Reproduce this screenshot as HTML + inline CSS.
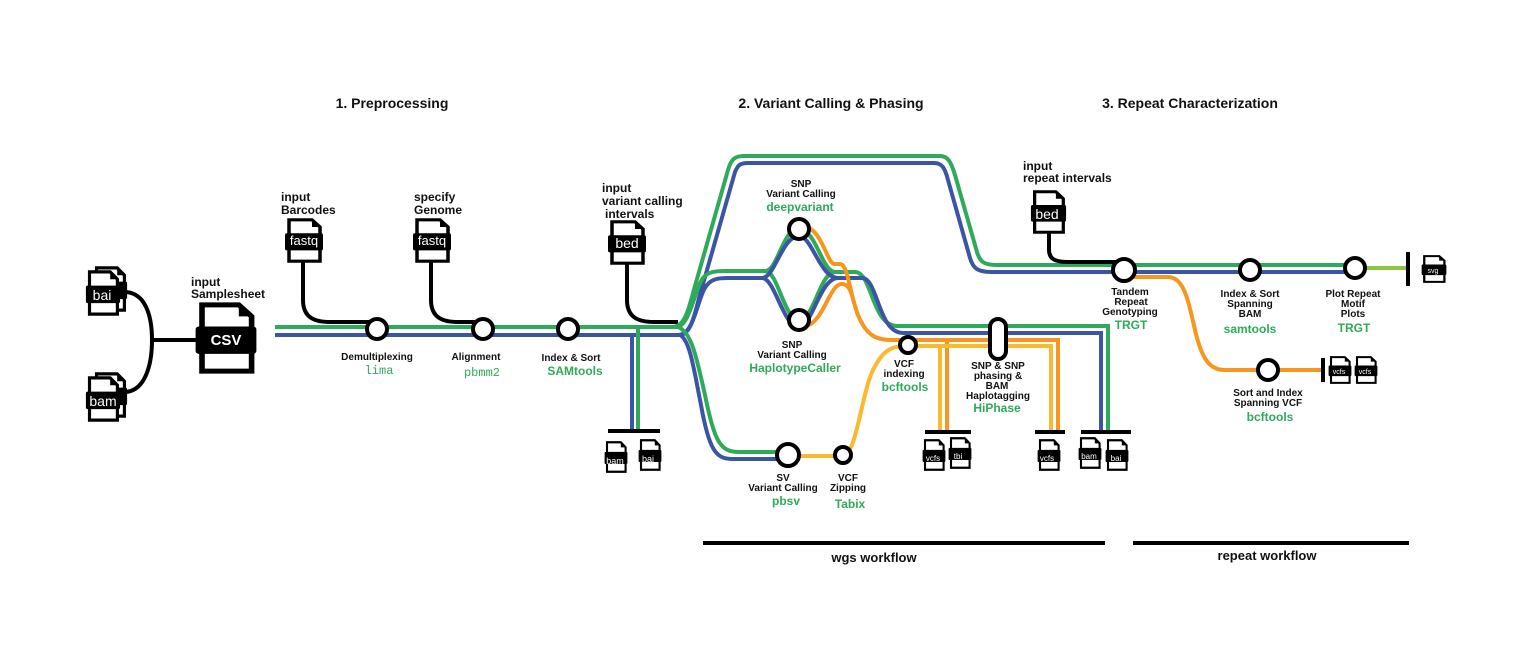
<!DOCTYPE html>
<html><head><meta charset="utf-8"><style>
body{margin:0;background:#fff;}
svg{display:block;}
text{font-family:"Liberation Sans",Arial,sans-serif;font-weight:bold;}
.t{font-size:10px;fill:#111;text-anchor:middle;}
.g{font-size:12px;fill:#2eaa5a;text-anchor:middle;}
.h{font-size:14px;fill:#111;text-anchor:middle;}
.in{font-size:12px;fill:#111;}
.dt{fill:#fff;font-weight:normal;text-anchor:middle;}
.G{stroke:#2eaa5a;stroke-width:4;fill:none;}
.B{stroke:#3a55a5;stroke-width:4;fill:none;}
.O{stroke:#f7961e;stroke-width:4;fill:none;}
.Y{stroke:#fbb92e;stroke-width:4;fill:none;}
.K{stroke:#000;stroke-width:4;fill:none;}
.c{fill:#fff;stroke:#000;stroke-width:4;}
</style></head><body>
<svg width="1536" height="657" viewBox="0 0 1536 657" xmlns="http://www.w3.org/2000/svg">
<defs>
<symbol id="doc" viewBox="0 0 40 50" preserveAspectRatio="none">
<path d="M5,2 H28 L36,10 V48 H5 Z" fill="#fff" stroke="#000" stroke-width="3.5"/>
<path d="M28,2 V10 H36 Z" fill="#000"/>
<rect x="1" y="17" width="38" height="19" rx="2" fill="#000"/>
</symbol>
</defs>

<!-- titles -->
<text class="h" x="392" y="108">1. Preprocessing</text>
<text class="h" x="831" y="108">2. Variant Calling &amp; Phasing</text>
<text class="h" x="1190" y="108">3. Repeat Characterization</text>

<!-- bottom bars -->
<rect x="703" y="541" width="402" height="4" fill="#000"/>
<rect x="1133" y="541" width="276" height="4" fill="#000"/>
<text class="h" x="874" y="562" style="font-size:13px">wgs workflow</text>
<text class="h" x="1267" y="560" style="font-size:13px">repeat workflow</text>

<!-- left inputs -->
<use href="#doc" x="92" y="266" width="36" height="46"/>
<use href="#doc" x="85" y="270" width="36" height="46"/>
<text class="dt" x="102" y="300" font-size="14">bai</text>
<use href="#doc" x="92" y="372" width="36" height="46"/>
<use href="#doc" x="85" y="376" width="36" height="46"/>
<text class="dt" x="103" y="406" font-size="14">bam</text>
<path class="K" d="M124,292 C145,292 152,315 152,340 C152,365 145,392 124,392"/>
<path class="K" d="M152,340 H198"/>
<text class="in" x="191" y="286">input</text>
<text class="in" x="191" y="298">Samplesheet</text>
<use href="#doc" x="194" y="302" width="64" height="72"/>
<text class="dt" x="226" y="345" font-size="15" style="font-weight:bold">CSV</text>

<!-- preprocessing main line -->
<path class="G" d="M275,327 H680"/>
<path class="B" d="M275,335 H680"/>
<path class="K" d="M303,258 V300 C303,318 315,322 330,322 H372"/>
<path class="K" d="M431,258 V300 C431,318 443,322 458,322 H478"/>
<path class="K" d="M627,258 V300 C627,318 639,322 654,322 H678"/>
<text class="in" x="281" y="201">input</text><text class="in" x="281" y="214">Barcodes</text>
<use href="#doc" x="284" y="218" width="40" height="45"/>
<text class="dt" x="304" y="245" font-size="13">fastq</text>
<text class="in" x="414" y="201">specify</text><text class="in" x="414" y="214">Genome</text>
<use href="#doc" x="412" y="218" width="40" height="45"/>
<text class="dt" x="432" y="245" font-size="13">fastq</text>
<text class="in" x="602" y="192">input</text><text class="in" x="602" y="205">variant calling</text><text class="in" x="605" y="218">intervals</text>
<use href="#doc" x="607" y="220" width="40" height="45"/>
<text class="dt" x="627" y="248" font-size="14">bed</text>

<!-- stack branch -->
<path class="B" d="M632,335 V431"/>
<path class="G" d="M638,327 V431"/>
<rect x="608" y="429" width="52" height="4" fill="#000"/>
<use href="#doc" x="604" y="441" width="24" height="32"/>
<text class="dt" x="615" y="464" font-size="9">bam</text>
<use href="#doc" x="638" y="439" width="24" height="32"/>
<text class="dt" x="648" y="462" font-size="9">bai</text>

<circle class="c" cx="377" cy="329" r="10"/>
<circle class="c" cx="483" cy="329" r="10"/>
<circle class="c" cx="568" cy="329" r="10"/>
<text class="t" x="377" y="360">Demultiplexing</text>
<text class="g" x="379" y="374" style="font-family:'Liberation Mono',monospace;font-weight:normal">lima</text>
<text class="t" x="476" y="360">Alignment</text>
<text class="g" x="482" y="376" style="font-family:'Liberation Mono',monospace;font-weight:normal">pbmm2</text>
<text class="t" x="571" y="361">Index &amp; Sort</text>
<text class="g" x="575" y="375">SAMtools</text>

<!-- top branch -->
<path class="G" d="M672,327 C684,327 688,312 693,293 L728,170 C731,160 734,156 744,156 H940 C948,156 951,162 955,175 L977,252 C980,262 984,265 997,265 H1115"/>
<path class="B" d="M678,335 C690,335 694,318 699,298 L735,172 C738,165 740,163 748,163 H934 C942,163 945,168 948,180 L970,258 C973,268 977,272 992,272 H1115"/>

<!-- middle branch -->
<path class="G" d="M676,327 C690,327 694,290 703,278 C708,272 714,271 725,271 H765 C778,271 782,229 799,229 C816,229 822,272 835,272 H855 C872,272 872,326 897,326 H1108 V432"/>
<path class="G" d="M765,271 C778,271 784,320 799,320 C814,320 820,272 835,272"/>
<path class="B" d="M680,335 C694,335 698,295 707,285 C712,279 718,278 728,278 H762 C775,278 782,236 799,236 C812,236 820,278 838,278 H862 C878,278 878,333 903,333 H1101 V432"/>
<path class="B" d="M762,278 C775,278 783,327 799,327 C812,327 820,278 838,278"/>

<!-- orange -->
<path class="O" d="M801,226 C822,226 826,262 834,264 H840 C848,264 850,295 858,315 C866,334 874,340 892,340 H1058 V432"/>
<path class="O" d="M801,327 C824,327 828,284 842,284 C852,284 852,300 858,315"/>
<path class="O" d="M947,340 V432"/>
<!-- yellow -->
<path class="Y" d="M790,456 H843 C856,456 862,392 873,370 C882,352 890,346 905,346 H1051 V432"/>
<path class="Y" d="M940,346 V432"/>

<!-- lower branch -->
<path class="G" d="M678,327 C692,332 697,360 705,395 C714,440 720,452 738,452 H785"/>
<path class="B" d="M680,335 C690,340 694,370 701,405 C709,450 716,459 732,459 H785"/>

<!-- bars wgs -->
<rect x="925" y="430" width="46" height="4" fill="#000"/>
<rect x="1035" y="430" width="30" height="4" fill="#000"/>
<rect x="1081" y="430" width="50" height="4" fill="#000"/>
<use href="#doc" x="922" y="439" width="24" height="32"/><text class="dt" x="933" y="461" font-size="8">vcfs</text>
<use href="#doc" x="948" y="437" width="24" height="32"/><text class="dt" x="958" y="459" font-size="8">tbi</text>
<use href="#doc" x="1037" y="439" width="24" height="32"/><text class="dt" x="1047" y="461" font-size="8">vcfs</text>
<use href="#doc" x="1078" y="437" width="24" height="32"/><text class="dt" x="1089" y="459" font-size="8">bam</text>
<use href="#doc" x="1105" y="439" width="24" height="32"/><text class="dt" x="1116" y="461" font-size="8">bai</text>

<!-- wgs nodes -->
<circle class="c" cx="799" cy="229" r="10"/>
<circle class="c" cx="799" cy="320" r="10"/>
<circle class="c" cx="788" cy="455" r="11"/>
<circle class="c" cx="843" cy="455" r="8"/>
<circle class="c" cx="908" cy="345" r="8"/>
<rect x="990" y="319" width="16" height="40" rx="8" class="c"/>

<text class="t" x="801" y="187">SNP</text>
<text class="t" x="801" y="197">Variant Calling</text>
<text class="g" x="800" y="211">deepvariant</text>
<text class="t" x="792" y="348">SNP</text>
<text class="t" x="792" y="358">Variant Calling</text>
<text class="g" x="795" y="372">HaplotypeCaller</text>
<text class="t" x="783" y="481">SV</text>
<text class="t" x="783" y="491">Variant Calling</text>
<text class="g" x="786" y="505">pbsv</text>
<text class="t" x="848" y="481">VCF</text>
<text class="t" x="848" y="491">Zipping</text>
<text class="g" x="850" y="508">Tabix</text>
<text class="t" x="904" y="367">VCF</text>
<text class="t" x="904" y="377">indexing</text>
<text class="g" x="905" y="391">bcftools</text>
<text class="t" x="998" y="369">SNP &amp; SNP</text>
<text class="t" x="998" y="379">phasing &amp;</text>
<text class="t" x="997" y="389">BAM</text>
<text class="t" x="998" y="399">Haplotagging</text>
<text class="g" x="997" y="412">HiPhase</text>

<!-- repeat -->
<text class="in" x="1023" y="170">input</text><text class="in" x="1023" y="182">repeat intervals</text>
<use href="#doc" x="1030" y="190" width="37" height="44"/>
<text class="dt" x="1047" y="219" font-size="14">bed</text>
<path class="K" d="M1049,232 V250 C1049,260 1057,262 1068,262 H1118"/>
<path class="G" d="M1115,265 H1350"/>
<path class="B" d="M1115,272 H1350"/>
<path d="M1360,268 H1408" stroke="#8cc63f" stroke-width="4"/>
<rect x="1406" y="252" width="4" height="34" fill="#000"/>
<use href="#doc" x="1421" y="255" width="26" height="28"/><text class="dt" x="1433" y="273" font-size="7">svg</text>
<path class="O" d="M1128,277 H1168 C1184,277 1188,300 1195,330 C1202,360 1210,370 1225,370 H1323"/>
<rect x="1321" y="358" width="4" height="24" fill="#000"/>
<use href="#doc" x="1328" y="356" width="24" height="28"/><text class="dt" x="1339" y="374" font-size="7">vcfs</text>
<use href="#doc" x="1354" y="356" width="24" height="28"/><text class="dt" x="1365" y="374" font-size="7">vcfs</text>
<circle class="c" cx="1124" cy="270" r="11"/>
<circle class="c" cx="1250" cy="270" r="10"/>
<circle class="c" cx="1355" cy="268" r="10"/>
<circle class="c" cx="1268" cy="370" r="10"/>
<text class="t" x="1130" y="295">Tandem</text>
<text class="t" x="1131" y="305">Repeat</text>
<text class="t" x="1130" y="315">Genotyping</text>
<text class="g" x="1131" y="329">TRGT</text>
<text class="t" x="1250" y="297">Index &amp; Sort</text>
<text class="t" x="1250" y="307">Spanning</text>
<text class="t" x="1250" y="317">BAM</text>
<text class="g" x="1250" y="333">samtools</text>
<text class="t" x="1353" y="297">Plot Repeat</text>
<text class="t" x="1353" y="307">Motif</text>
<text class="t" x="1353" y="317">Plots</text>
<text class="g" x="1354" y="332">TRGT</text>
<text class="t" x="1268" y="396">Sort and Index</text>
<text class="t" x="1268" y="406">Spanning VCF</text>
<text class="g" x="1270" y="421">bcftools</text>
</svg>
</body></html>
